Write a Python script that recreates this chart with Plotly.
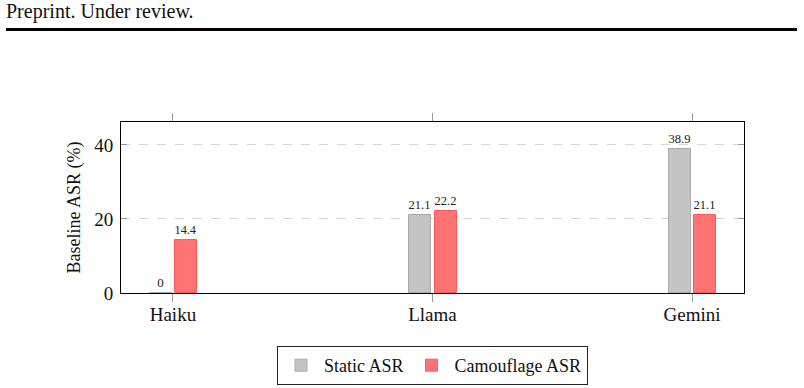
import plotly.graph_objects as go

models = ["Haiku", "Llama", "Gemini"]
static_asr = [0, 21.1, 38.9]
camouflage_asr = [14.4, 22.2, 21.1]
y_ticks = [0, 20, 40]

FONT = "Liberation Serif"
L, R, T, B = 121, 60, 122, 95
W, H = 804, 388
pw, ph = W - L - R, H - T - B

def px_x(px):
    return (px - L) / pw

def px_y(py):
    return (H - B - py) / ph

fig = go.Figure()
fig.add_trace(go.Bar(
    x=models, y=static_asr, name="Static ASR",
    marker=dict(color="#c4c4c4", line=dict(color="#aaaaaa", width=1)),
    width=0.085, offset=-0.09,
    text=[f"{v:g}" for v in static_asr], textposition="outside",
    textfont=dict(family=FONT, size=13, color="#222"), cliponaxis=False,
))
fig.add_trace(go.Bar(
    x=models, y=camouflage_asr, name="Camouflage ASR",
    marker=dict(color="#ff7373", line=dict(color="#ff5a5a", width=1)),
    width=0.085, offset=0.008,
    text=[f"{v:g}" for v in camouflage_asr], textposition="outside",
    textfont=dict(family=FONT, size=13, color="#222"), cliponaxis=False,
))

fig.update_layout(
    width=W, height=H,
    margin=dict(l=L, r=R, t=T, b=B, pad=0, autoexpand=False),
    paper_bgcolor="white", plot_bgcolor="white",
    font=dict(family=FONT, size=18, color="#111"),
    bargap=0, barmode="overlay",
    showlegend=True,
    legend=dict(
        orientation="h", x=0.5, xanchor="center",
        yref="container", y=1 - 346 / H, yanchor="top",
        bordercolor="#222", borderwidth=1, font=dict(family=FONT, size=18),
        tracegroupgap=0, itemwidth=36,
    ),
    xaxis=dict(
        range=[-0.2, 2.2], showline=True, linecolor="black", linewidth=1,
        mirror="ticks", ticks="outside", ticklen=8, tickcolor="#999", tickwidth=1,
        showgrid=False, tickfont=dict(family=FONT, size=19), ticklabelstandoff=-4,
    ),
    yaxis=dict(
        range=[0, 46.2], tickvals=y_ticks, showline=True, linecolor="black",
        linewidth=1, mirror="ticks", ticks="inside", ticklen=6, tickcolor="#999",
        showgrid=True, gridcolor="#d6d6d6", griddash="dash", gridwidth=1,
        zeroline=False, tickfont=dict(family=FONT, size=19), ticklabelstandoff=3,
        title=dict(text="Baseline ASR (%)", font=dict(family=FONT, size=18), standoff=8),
    ),
)

fig.add_annotation(
    text="Preprint. Under review.", xref="paper", yref="paper",
    x=px_x(4), y=px_y(12), xanchor="left", yanchor="middle",
    showarrow=False, font=dict(family=FONT, size=20, color="#111"),
)
fig.add_shape(
    type="line", xref="paper", yref="paper",
    x0=px_x(6), x1=px_x(797), y0=px_y(29.5), y1=px_y(29.5),
    line=dict(color="black", width=3),
)

fig.write_html("out.html")
